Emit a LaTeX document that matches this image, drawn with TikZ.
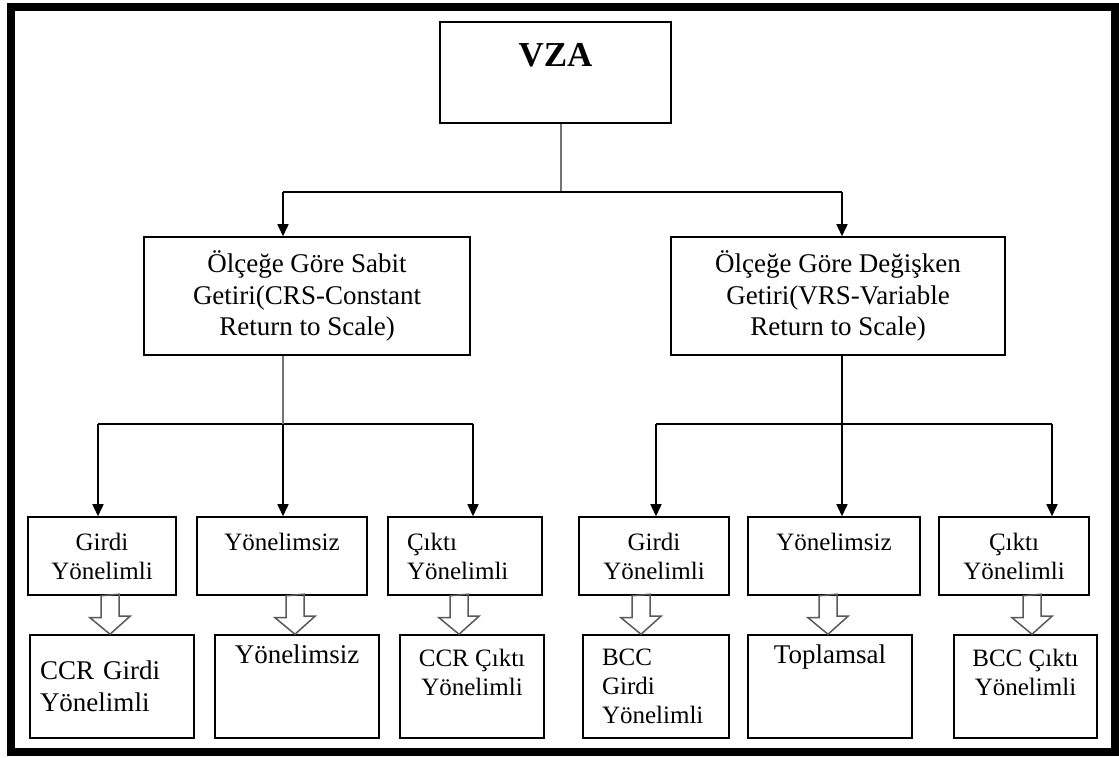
\documentclass[tikz,border=0pt]{standalone}
\usepackage{fontspec}
\setmainfont{Liberation Serif}
\usetikzlibrary{arrows.meta}

\newcommand{\hollowarrow}[3]{%
    \draw[hollow] (#1.south -| #3) ++(-9,0) -- ++(0,22) -- ++(-11,0)
        -- (#2.north -| #3) -- ++(20,-18) -- ++(-11,0) -- ++(0,-22) -- cycle;
}

\begin{document}
\begin{tikzpicture}
    [
    x=0.5pt, y=-0.5pt,
    every node/.style={inner sep=0pt, align=center},
    box/.style={draw, line width=0.75pt, font=\fontsize{12.5}{14.5}\selectfont},
    kind/.style={box, minimum width=#1, minimum height=59pt,
        font=\fontsize{13.5}{15.75}\selectfont},
    choice/.style={box, minimum width=#1, minimum height=39pt},
    model/.style={box, minimum width=#1, minimum height=51.5pt},
    big/.style={font=\fontsize{13.5}{16}\selectfont},
    link/.style={line width=0.75pt},
    faint/.style={link, draw=black!55},
    arr/.style={link, -{Triangle[length=6pt, width=5.5pt]}},
    hollow/.style={draw=black!65, line width=0.75pt},
    frame/.style={line width=4pt},
    ]
    \useasboundingbox (0,0) rectangle (1119,758);
    \draw[frame] (10.5,7) rectangle (1115,752);

    \node[box, minimum width=115.5pt, minimum height=50.5pt,
        font=\bfseries\fontsize{17.5}{20}\selectfont,
        text height=12pt, text depth=17.5pt] (vza) at (555.5,72.5) {VZA};

    \node[kind=163pt] (crs) at (307,296)
        {Ölçeğe Göre Sabit\\Getiri(CRS-Constant\\Return to Scale)};
    \node[kind=167pt] (vrs) at (838,296)
        {Ölçeğe Göre Değişken\\Getiri(VRS-Variable\\Return to Scale)};

    \node[choice=74pt] (g1) at (102,556) {Girdi\\Yönelimli};
    \node[choice=85pt] (y1) at (282,556) {Yönelimsiz\\~};
    \node[choice=77pt, align=left, text width=58pt, inner xsep=9.5pt]
        (c1) at (465,556) {Çıktı\\Yönelimli};
    \node[choice=75pt] (g2) at (654,556) {Girdi\\Yönelimli};
    \node[choice=86pt] (y3) at (834,556) {Yönelimsiz\\~};
    \node[choice=75pt] (c2) at (1014,556) {Çıktı\\Yönelimli};

    \node[model=82pt, big, align=left, text width=72pt, inner xsep=5pt]
        (cg) at (112,686.5) {CCR Girdi\\Yönelimli};
    \node[model=82pt, big] (y2) at (297,686.5) {Yönelimsiz\\~\\~};
    \node[model=72pt] (cc) at (472,686.5) {CCR Çıktı\\Yönelimli\\~};
    \node[model=73pt, align=left, text width=54pt, inner xsep=9.5pt]
        (bg) at (656,686.5) {BCC\\Girdi\\Yönelimli};
    \node[model=82pt, big] (tp) at (830,686.5) {Toplamsal\\~\\~};
    \node[model=71.5pt] (bc) at (1025.5,686.5) {BCC Çıktı\\Yönelimli\\~};

    \coordinate (b0) at (561,192);
    \coordinate (b1) at (283,192);
    \coordinate (b2) at (842,192);
    \coordinate (l1) at (98,424);
    \coordinate (l3) at (473,424);
    \coordinate (r1) at (656,424);
    \coordinate (r3) at (1052,424);

    \draw[faint] (vza.south -| b0) -- (b0);
    \draw[link] (b1) -- (b2);
    \draw[arr] (b1) -- (b1 |- crs.north);
    \draw[arr] (b2) -- (b2 |- vrs.north);

    \draw[link] (l1) -- (l3);
    \draw[faint] (b1 |- crs.south) -- (b1 |- l1);
    \draw[arr] (b1 |- l1) -- (b1 |- y1.north);
    \draw[arr] (l1) -- (l1 |- g1.north);
    \draw[arr] (l3) -- (l3 |- c1.north);

    \draw[link] (r1) -- (r3);
    \draw[arr] (b2 |- vrs.south) -- (b2 |- y3.north);
    \draw[arr] (r1) -- (r1 |- g2.north);
    \draw[arr] (r3) -- (r3 |- c2.north);

    \coordinate (h1) at (110,0);
    \coordinate (h2) at (295,0);
    \coordinate (h3) at (459,0);
    \coordinate (h4) at (641,0);
    \coordinate (h5) at (828,0);
    \coordinate (h6) at (1032,0);
    \hollowarrow{g1}{cg}{h1}
    \hollowarrow{y1}{y2}{h2}
    \hollowarrow{c1}{cc}{h3}
    \hollowarrow{g2}{bg}{h4}
    \hollowarrow{y3}{tp}{h5}
    \hollowarrow{c2}{bc}{h6}
\end{tikzpicture}
\end{document}
